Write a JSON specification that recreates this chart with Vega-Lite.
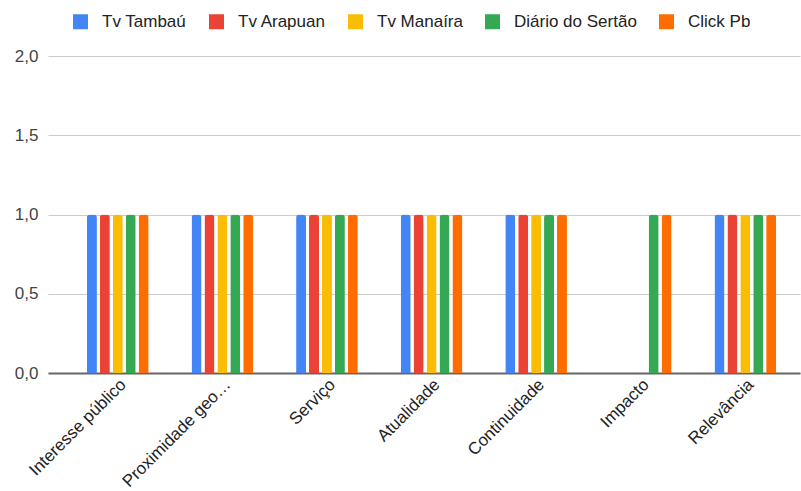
{
  "$schema": "https://vega.github.io/schema/vega-lite/v6.json",
  "width": 752,
  "height": 317,
  "autosize": {"type": "none"},
  "padding": {"left": 48, "top": 56, "right": 1, "bottom": 118},
  "background": "white",
  "config": {"view": {"stroke": null}, "font": "Arial"},
  "data": {
    "values": [
      {"criterio": "Interesse público", "veiculo": "Tv Tambaú", "valor": 1},
      {"criterio": "Interesse público", "veiculo": "Tv Arapuan", "valor": 1},
      {"criterio": "Interesse público", "veiculo": "Tv Manaíra", "valor": 1},
      {"criterio": "Interesse público", "veiculo": "Diário do Sertão", "valor": 1},
      {"criterio": "Interesse público", "veiculo": "Click Pb", "valor": 1},
      {"criterio": "Proximidade geo…", "veiculo": "Tv Tambaú", "valor": 1},
      {"criterio": "Proximidade geo…", "veiculo": "Tv Arapuan", "valor": 1},
      {"criterio": "Proximidade geo…", "veiculo": "Tv Manaíra", "valor": 1},
      {"criterio": "Proximidade geo…", "veiculo": "Diário do Sertão", "valor": 1},
      {"criterio": "Proximidade geo…", "veiculo": "Click Pb", "valor": 1},
      {"criterio": "Serviço", "veiculo": "Tv Tambaú", "valor": 1},
      {"criterio": "Serviço", "veiculo": "Tv Arapuan", "valor": 1},
      {"criterio": "Serviço", "veiculo": "Tv Manaíra", "valor": 1},
      {"criterio": "Serviço", "veiculo": "Diário do Sertão", "valor": 1},
      {"criterio": "Serviço", "veiculo": "Click Pb", "valor": 1},
      {"criterio": "Atualidade", "veiculo": "Tv Tambaú", "valor": 1},
      {"criterio": "Atualidade", "veiculo": "Tv Arapuan", "valor": 1},
      {"criterio": "Atualidade", "veiculo": "Tv Manaíra", "valor": 1},
      {"criterio": "Atualidade", "veiculo": "Diário do Sertão", "valor": 1},
      {"criterio": "Atualidade", "veiculo": "Click Pb", "valor": 1},
      {"criterio": "Continuidade", "veiculo": "Tv Tambaú", "valor": 1},
      {"criterio": "Continuidade", "veiculo": "Tv Arapuan", "valor": 1},
      {"criterio": "Continuidade", "veiculo": "Tv Manaíra", "valor": 1},
      {"criterio": "Continuidade", "veiculo": "Diário do Sertão", "valor": 1},
      {"criterio": "Continuidade", "veiculo": "Click Pb", "valor": 1},
      {"criterio": "Impacto", "veiculo": "Tv Tambaú", "valor": 0},
      {"criterio": "Impacto", "veiculo": "Tv Arapuan", "valor": 0},
      {"criterio": "Impacto", "veiculo": "Tv Manaíra", "valor": 0},
      {"criterio": "Impacto", "veiculo": "Diário do Sertão", "valor": 1},
      {"criterio": "Impacto", "veiculo": "Click Pb", "valor": 1},
      {"criterio": "Relevância", "veiculo": "Tv Tambaú", "valor": 1},
      {"criterio": "Relevância", "veiculo": "Tv Arapuan", "valor": 1},
      {"criterio": "Relevância", "veiculo": "Tv Manaíra", "valor": 1},
      {"criterio": "Relevância", "veiculo": "Diário do Sertão", "valor": 1},
      {"criterio": "Relevância", "veiculo": "Click Pb", "valor": 1}
    ]
  },
  "mark": {"type": "bar", "cornerRadiusTopLeft": 3, "cornerRadiusTopRight": 3},
  "encoding": {
    "x": {
      "field": "criterio",
      "type": "nominal",
      "sort": ["Interesse público", "Proximidade geo…", "Serviço", "Atualidade", "Continuidade", "Impacto", "Relevância"],
      "scale": {"paddingInner": 0.41, "paddingOuter": 0.3, "align": 0.62},
      "axis": {
        "title": null,
        "labelAngle": -45,
        "labelFontSize": 17,
        "labelColor": "#222222",
        "domainColor": "#666666",
        "domainWidth": 2,
        "ticks": false,
        "labelPadding": 3,
        "labelLimit": 300
      }
    },
    "xOffset": {
      "field": "veiculo",
      "type": "nominal",
      "sort": ["Tv Tambaú", "Tv Arapuan", "Tv Manaíra", "Diário do Sertão", "Click Pb"],
      "scale": {"paddingInner": 0.225, "paddingOuter": 0}
    },
    "y": {
      "field": "valor",
      "type": "quantitative",
      "scale": {"domain": [0, 2]},
      "axis": {
        "title": null,
        "values": [0, 0.5, 1, 1.5, 2],
        "labelExpr": "replace(format(datum.value, '.1f'), '.', ',')",
        "labelFontSize": 17,
        "labelColor": "#444444",
        "labelPadding": 10,
        "domain": false,
        "ticks": false,
        "gridColor": "#cccccc",
        "gridWidth": 1
      }
    },
    "color": {
      "field": "veiculo",
      "type": "nominal",
      "sort": ["Tv Tambaú", "Tv Arapuan", "Tv Manaíra", "Diário do Sertão", "Click Pb"],
      "scale": {
        "domain": ["Tv Tambaú", "Tv Arapuan", "Tv Manaíra", "Diário do Sertão", "Click Pb"],
        "range": ["#4285f4", "#ea4335", "#fbbc04", "#34a853", "#ff6d01"]
      },
      "legend": {
        "title": null,
        "orient": "none",
        "direction": "horizontal",
        "columns": 5,
        "legendX": 24,
        "legendY": -43,
        "symbolType": "square",
        "symbolSize": 225,
        "symbolStrokeWidth": 0,
        "symbolOpacity": 1,
        "labelFontSize": 17,
        "labelColor": "#222222",
        "labelOffset": 13,
        "columnPadding": 21,
        "labelLimit": 300
      }
    }
  }
}
